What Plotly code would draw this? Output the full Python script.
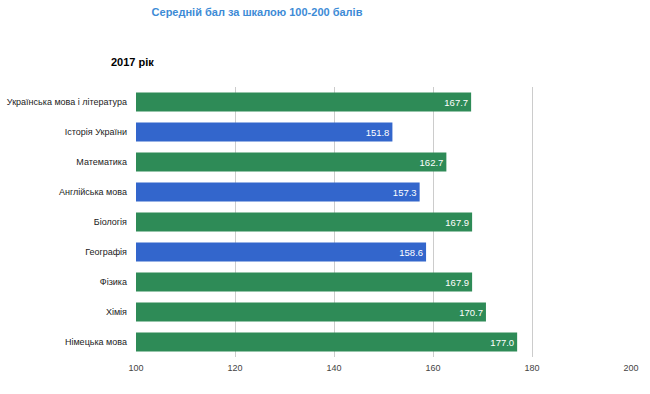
import plotly.graph_objects as go

subjects = ["Українська мова і література", "Історія України", "Математика",
            "Англійська мова", "Біологія", "Географія", "Фізика", "Хімія", "Німецька мова"]
scores = [167.7, 151.8, 162.7, 157.3, 167.9, 158.6, 167.9, 170.7, 177.0]
bar_colors = ["#2e8b57", "#3366cc", "#2e8b57", "#3366cc", "#2e8b57",
              "#3366cc", "#2e8b57", "#2e8b57", "#2e8b57"]
x_ticks = [100, 120, 140, 160, 180, 200]

FONT = "Liberation Sans, Arial, sans-serif"
fig = go.Figure(go.Bar(
    y=subjects, x=[s - 100 for s in scores], base=100, orientation="h",
    marker=dict(color=bar_colors, line=dict(width=0)),
    width=0.63,
    text=[f"{s:.1f}" for s in scores],
    textposition="inside", insidetextanchor="end",
    textfont=dict(color="white", size=9.5, family=FONT),
    hoverinfo="skip",
))

W, H = 650, 394
L, R, T, B = 136, 19, 87, 37
fig.update_layout(
    width=W, height=H,
    margin=dict(l=L, r=R, t=T, b=B, autoexpand=False),
    paper_bgcolor="white", plot_bgcolor="white",
    font=dict(family=FONT, size=9, color="#222222"),
    showlegend=False,
    title=dict(text="<b>Середній бал за шкалою 100-200 балів</b>",
               xref="container", yref="container",
               x=257 / W, xanchor="center", y=1 - 12 / H, yanchor="middle",
               font=dict(size=11, color="#3d8bd6", family=FONT)),
    xaxis=dict(range=[100, 200], tickvals=x_ticks, showgrid=True, gridcolor="#cccccc",
               gridwidth=1, zeroline=False, showline=False, ticks="", automargin=False,
               ticklabelstandoff=4,
               tickfont=dict(size=9, color="#444444"), fixedrange=True),
    yaxis=dict(autorange="reversed", showgrid=False, ticks="", ticklen=0, automargin=False,
               ticklabelstandoff=8,
               tickfont=dict(size=9, color="#222222"), fixedrange=True),
    annotations=[dict(text="<b>2017 рік</b>", xref="paper", yref="paper",
                      x=(109 - L) / (W - L - R), xanchor="left",
                      y=1 + (T - 62) / (H - T - B), yanchor="middle",
                      showarrow=False,
                      font=dict(size=11, color="black", family=FONT))],
)

fig.write_html("out.html", config={"displayModeBar": False},
               post_script="document.body.style.margin='0px';")
